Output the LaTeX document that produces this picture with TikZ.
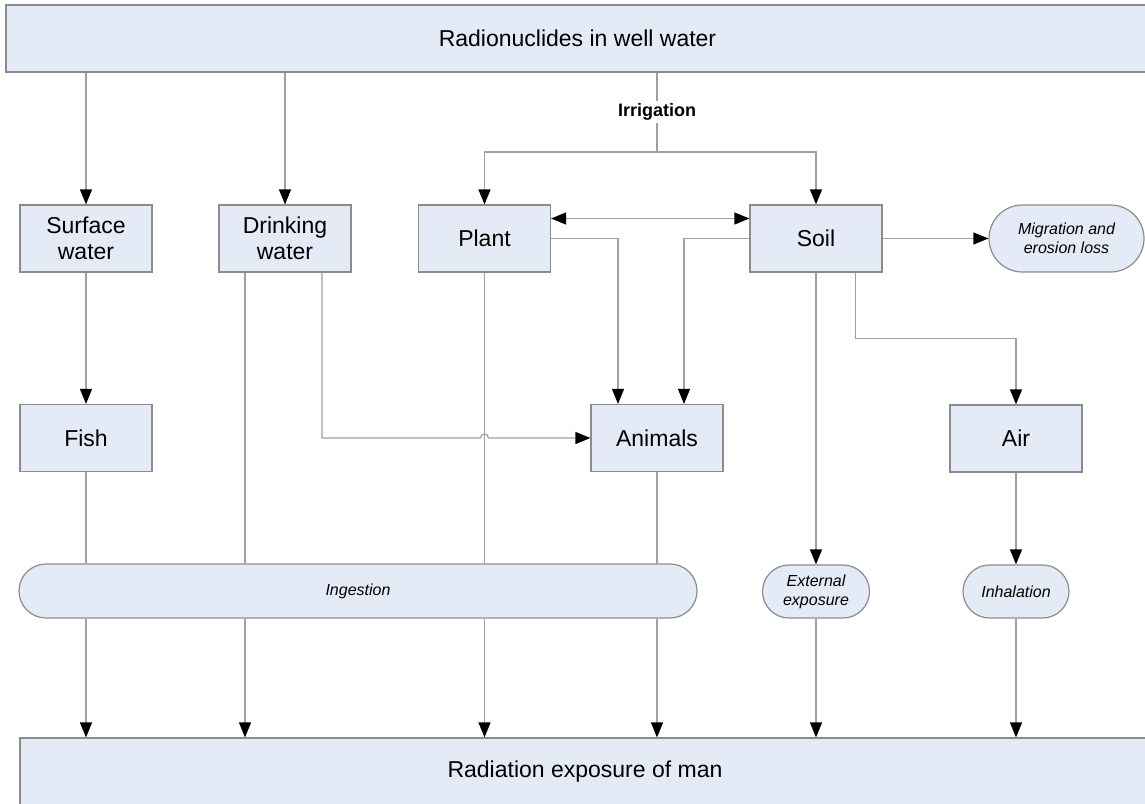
\documentclass[tikz,border=0pt]{standalone}
\usepackage{fontspec}
\setmainfont{Liberation Sans}
\usetikzlibrary{arrows.meta}
\usetikzlibrary{shapes.misc}
\usetikzlibrary{calc}

\definecolor{boxfill}{RGB}{228,235,247}
\definecolor{boxline}{RGB}{140,140,140}
\definecolor{wiregray}{RGB}{160,160,160}

\tikzset{
  box/.style={draw=boxline, fill=boxfill, line width=1.2pt, minimum width=132pt,
    minimum height=67pt, align=center, inner sep=0pt, font=\fontsize{23}{26}\selectfont},
  pill/.style={rounded rectangle, draw=boxline, fill=boxfill, line width=1.2pt,
    minimum height=53pt, align=center, inner sep=0pt, font=\fontsize{16}{19}\selectfont\itshape},
  wire/.style={draw=wiregray, line width=1.2pt},
  flow/.style={wire, -{Triangle[width=12pt,length=15pt,color=black]}},
  both/.style={wire, {Triangle[width=12pt,length=15pt,color=black]}-{Triangle[width=12pt,length=15pt,color=black]}},
}

\begin{document}
\begin{tikzpicture}[x=1pt,y=-1pt]
    \useasboundingbox (0,0) rectangle (1145,803);

    % source and sink
    \node[box, minimum width=1143pt] (well) at (577.5,38.5) {Radionuclides in well water};
    \node[box, minimum width=1130pt, minimum height=68pt] (man) at (585,772) {Radiation exposure of man};

    % compartments
    \node[box] (surf) at (86,238.5) {Surface\\water};
    \node[box] (drink) at (285,238.5) {Drinking\\water};
    \node[box] (plant) at (484.5,238.5) {Plant};
    \node[box] (soil) at (816,238.5) {Soil};
    \node[pill, minimum width=155pt, minimum height=67pt] (loss) at (1066.5,238.5) {Migration and\\erosion loss};
    \node[box] (fish) at (86,438) {Fish};
    \node[box] (animals) at (657,438) {Animals};
    \node[box] (air) at (1016,438.5) {Air};

    % pathways
    \node[pill, minimum width=678pt, minimum height=54pt] (ingest) at (358,591) {Ingestion};
    \node[pill, minimum width=107pt] (extexp) at (816,591.5) {External\\exposure};
    \node[pill, minimum width=106pt] (inhal) at (1016,591.5) {Inhalation};

    \node[font=\fontsize{18}{21}\selectfont\bfseries, inner sep=2pt] (irr) at (657,112) {Irrigation};
    \coordinate (split) at (657,152);

    \coordinate (drinkL) at ([xshift=-40pt]drink.south);
    \coordinate (drinkR) at ([xshift=37pt]drink.south);
    \coordinate (hop) at ($(plant.south |- animals.west)+(-4,0)$);

    % from the well
    \draw[flow] (surf |- well.south) -- (surf.north);
    \draw[flow] (drink |- well.south) -- (drink.north);
    \draw[wire] (irr |- well.south) -- (irr.north);
    \draw[wire] (irr.south) -- (split);
    \draw[flow] (split) -| (plant.north);
    \draw[flow] (split) -| (soil.north);

    % plant and soil
    \draw[both] ([yshift=20pt]plant.east) -- ([yshift=20pt]soil.west);
    \draw[flow] (plant.east) -| ([xshift=-39pt]animals.north);
    \draw[flow] (soil.west) -| ([xshift=27pt]animals.north);
    \draw[flow] (soil.east) -- (loss.west);
    \draw[flow] (surf.south) -- (fish.north);
    \draw[flow] (drinkR) |- (hop) .. controls +(0,-5.3) and +(0,-5.3) .. ++(8,0) -- (animals.west);

    % into ingestion
    \draw[wire] (fish.south) -- (fish |- ingest.north);
    \draw[wire] (drinkL) -- (drinkL |- ingest.north);
    \draw[wire] (plant.south) -- (plant |- ingest.north);
    \draw[wire] (animals.south) -- (animals |- ingest.north);
    \foreach \col in {fish, drinkL, plant, animals}
        \draw[flow] (\col |- ingest.south) -- (\col |- man.north);

    % external and inhalation
    \draw[flow] (soil.south) -- (extexp.north);
    \draw[flow] (extexp.south) -- (extexp |- man.north);
    \draw[flow] ([xshift=39.5pt]soil.south) -- ++(0,66) -| (air.north);
    \draw[flow] (air.south) -- (inhal.north);
    \draw[flow] (inhal.south) -- (inhal |- man.north);
\end{tikzpicture}
\end{document}
